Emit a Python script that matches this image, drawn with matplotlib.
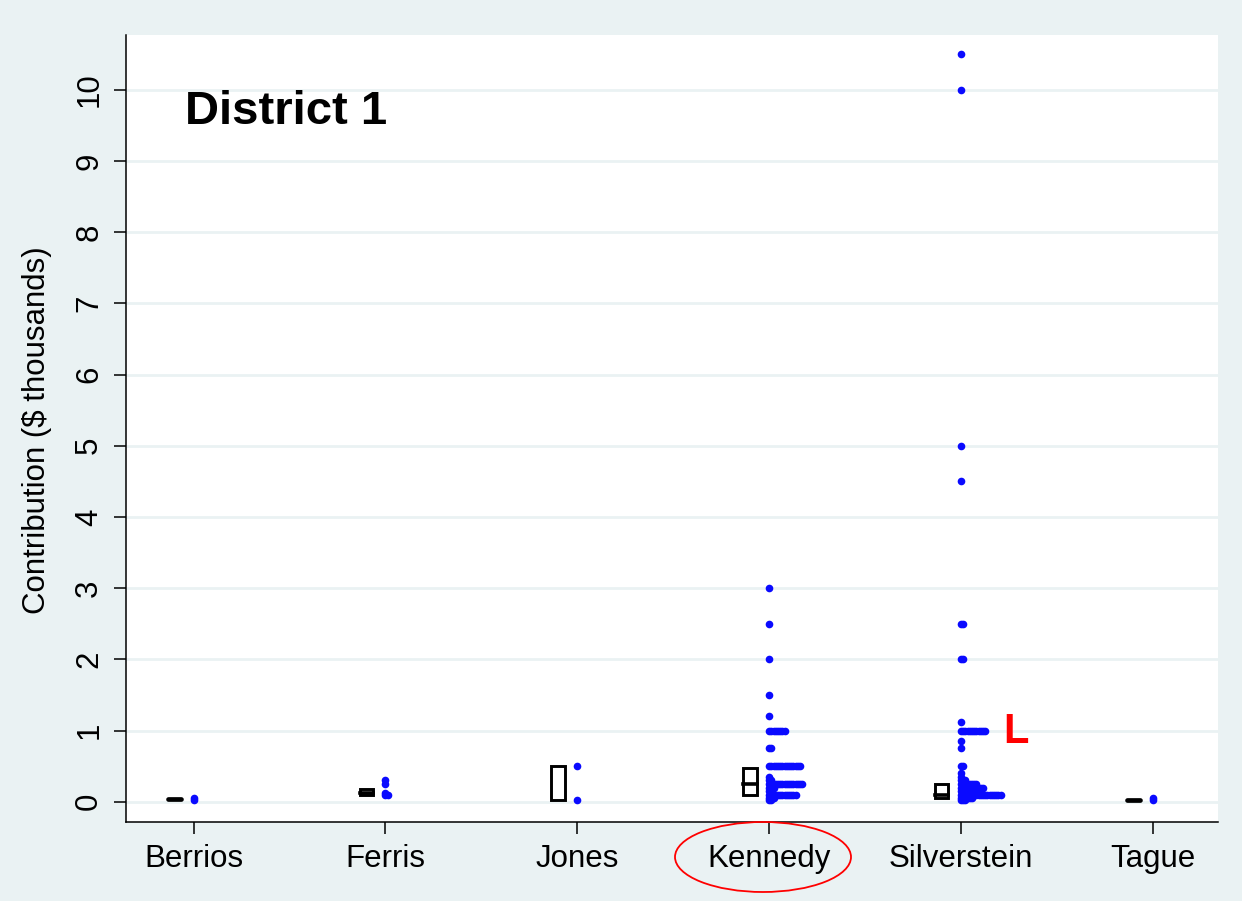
import numpy as np
import matplotlib
matplotlib.use("Agg")
import matplotlib.pyplot as plt
from matplotlib.patches import Rectangle, Ellipse

plt.rcParams['font.family'] = ['Liberation Sans', 'DejaVu Sans']

# candidates on the x axis
candidates = ["Berrios", "Ferris", "Jones", "Kennedy", "Silverstein", "Tague"]

# contributions ($ thousands): distinct values and how many donors gave each
berrios_vals = [0.06, 0.03]
berrios_counts = [1, 1]
ferris_vals = [0.3, 0.25, 0.12, 0.1]
ferris_counts = [1, 1, 1, 2]
jones_vals = [0.5, 0.025]
jones_counts = [1, 1]
kennedy_vals = [3, 2.5, 2, 1.5, 1.2, 1.0, 0.75, 0.5, 0.35, 0.3, 0.25, 0.2, 0.15, 0.1, 0.05, 0.025]
kennedy_counts = [1, 1, 1, 1, 1, 8, 2, 15, 1, 2, 16, 3, 2, 13, 3, 2]
silver_vals = [10.5, 10, 5, 4.5, 2.5, 2, 1.12, 1.0, 0.85, 0.75, 0.5, 0.4, 0.35, 0.3,
               0.25, 0.2, 0.15, 0.1, 0.05, 0.025]
silver_counts = [1, 1, 1, 1, 2, 2, 1, 12, 1, 1, 2, 1, 1, 3, 8, 11, 5, 19, 6, 3]
tague_vals = [0.05, 0.025]
tague_counts = [1, 1]

all_vals = [berrios_vals, ferris_vals, jones_vals, kennedy_vals, silver_vals, tague_vals]
all_counts = [berrios_counts, ferris_counts, jones_counts, kennedy_counts, silver_counts, tague_counts]

# box summaries (q1, median, q3); None = no median line shown
box_q1 = [0.04, 0.1, 0.025, 0.1, 0.05, 0.025]
box_med = [0.04, 0.13, None, 0.25, 0.1, 0.025]
box_q3 = [0.04, 0.175, 0.5, 0.48, 0.25, 0.025]

bg = "#eaf2f3"
fig = plt.figure(figsize=(12.42, 9.01), dpi=100, facecolor=bg)
ax = fig.add_axes([0.1012, 0.0880, 0.8795, 0.8732])
ax.set_facecolor("white")

xpos = np.arange(1, len(candidates) + 1)
step = 0.0115
box_off = -0.10
box_w = 0.07

for i, x in enumerate(xpos):
    # stacked dots
    xs, ys = [], []
    for v, n in zip(all_vals[i], all_counts[i]):
        for k in range(n):
            xs.append(x + k * step)
            ys.append(v)
    ax.plot(xs, ys, 'o', color="#0a0aff", markersize=5.5, markeredgewidth=0, zorder=3)

    # box
    bx = x + box_off - box_w / 2
    if box_q3[i] - box_q1[i] < 0.01:
        ax.plot([bx, bx + box_w], [box_q1[i]] * 2, color="black", lw=3.4,
                solid_capstyle="round", zorder=3)
    else:
        ax.add_patch(Rectangle((bx, box_q1[i]), box_w, box_q3[i] - box_q1[i],
                               fill=False, edgecolor="black", lw=2.1, zorder=3))
        if box_med[i] is not None:
            ax.plot([bx, bx + box_w], [box_med[i]] * 2, color="black", lw=2.6, zorder=3)

ax.set_xlim(0.646, 6.34)
ax.set_ylim(-0.28, 10.77)
ax.set_yticks(range(0, 11))
ax.set_xticks(xpos)
ax.set_xticklabels(candidates)
ax.yaxis.grid(True, color=bg, lw=2)
ax.set_axisbelow(True)

for s in ["top", "right"]:
    ax.spines[s].set_visible(False)
for s in ["left", "bottom"]:
    ax.spines[s].set_linewidth(1.1)

ax.tick_params(axis="both", direction="out", length=8.5, width=1.1, labelsize=22.5)
ax.tick_params(axis="x", pad=7.5)
ax.tick_params(axis="y", pad=7)
for lab in ax.get_yticklabels():
    lab.set_rotation(90)
    lab.set_va("center")

ax.set_ylabel(r"Contribution (\$ thousands)", fontsize=22.5)
ax.yaxis.set_label_coords(-0.0675, 0.498)

ax.text(0.054, 0.902, "District 1", transform=ax.transAxes, fontsize=34,
        fontweight="bold", va="center", ha="left")
ax.text(5.22, 0.98, "L", color="red", fontsize=30, fontweight="bold", va="center", ha="left")

# circle round the Kennedy label
fig.patches.append(Ellipse((763 / 1242, 1 - 857 / 901), 176 / 1242, 70 / 901,
                           transform=fig.transFigure, fill=False, edgecolor="red", lw=1.3))

fig.savefig("out.png", dpi=100, facecolor=bg)
